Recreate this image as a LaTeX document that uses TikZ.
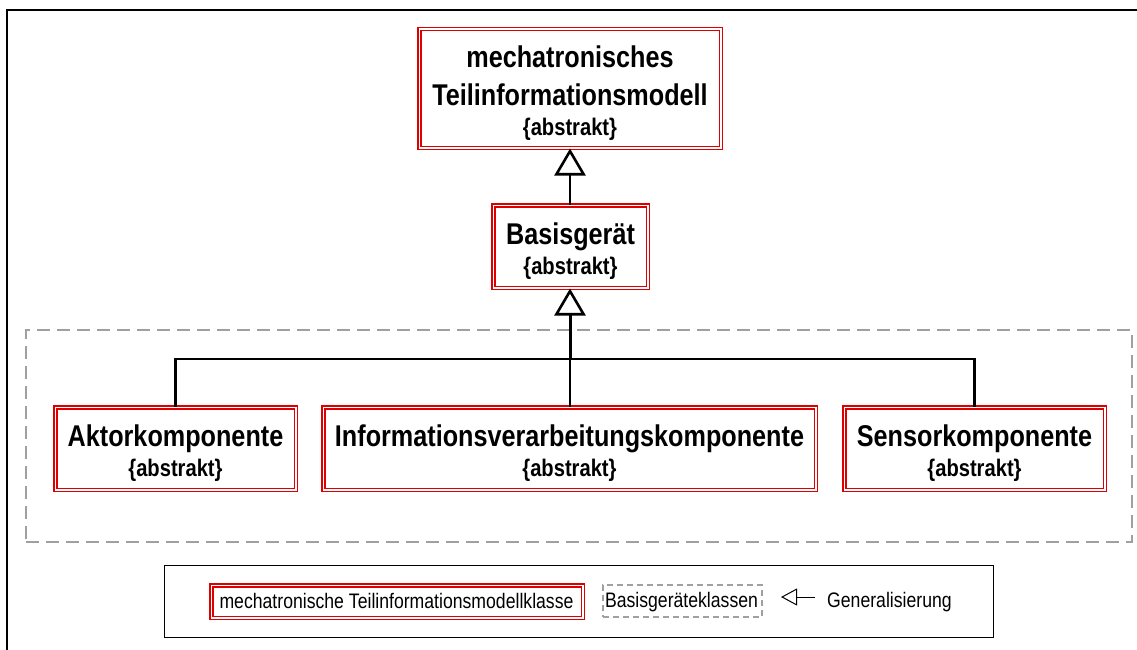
\documentclass[tikz,border=0pt]{standalone}
\usepackage{fontspec}
\setmainfont{Liberation Sans}
\newfontfamily\narrowfont[FakeStretch=0.84]{Liberation Sans}
\usetikzlibrary{arrows.meta}
\definecolor{boxred}{RGB}{220,0,0}
\definecolor{groupgrey}{RGB}{160,160,160}
\newcommand{\abst}[1]{{\fontsize{24}{30}\selectfont #1}}
\newcommand{\tallstrut}{\rule{0pt}{31pt}}
\tikzset{
  classbox/.style={draw=boxred, double=white, double distance=1.5pt,
    line width=1.5pt, rectangle, inner sep=0pt, align=center,
    font=\narrowfont\bfseries\fontsize{30}{30}\selectfont},
  gen/.style={line width=2.2pt,
    -{Triangle[open, length=27pt, width=31pt, line width=2.6pt, fill=white]}},
  conn/.style={line width=2.4pt},
  groupbox/.style={draw=groupgrey, line width=1.6pt,
    dash pattern=on 13pt off 7pt, rectangle, inner sep=0pt},
  legendtext/.style={font=\narrowfont\fontsize{21}{24}\selectfont,
    inner sep=0pt, anchor=base},
}
\begin{document}
\begin{tikzpicture}[x=1pt, y=-1pt]
  \useasboundingbox (0,0) rectangle (1137,650);

  % outer frame (left and top edges only)
  \coordinate (fbl) at (7,651);
  \coordinate (ftl) at (7,10);
  \coordinate (ftr) at (1138,10);
  \draw[line width=2pt] (fbl) -- (ftl) -- (ftr);

  % group of the base device classes
  \node[groupbox, minimum width=1106pt, minimum height=212pt] (grp) at (579,436) {};

  % classes
  \node[classbox, minimum width=301.5pt, minimum height=118.5pt] (top) at (570,88.5)
    {\tallstrut mechatronisches\\[8pt]Teilinformationsmodell\\\abst{\{abstrakt\}}};
  \node[classbox, minimum width=154.5pt, minimum height=82.5pt] (basis) at (570.5,246.5)
    {\tallstrut Basisger\"at\\\abst{\{abstrakt\}}};
  \node[classbox, minimum width=240.5pt, minimum height=82.5pt] (akt) at (175.5,448.5)
    {\tallstrut Aktorkomponente\\\abst{\{abstrakt\}}};
  \node[classbox, minimum width=492.5pt, minimum height=82.5pt] (inf) at (569.5,448.5)
    {\tallstrut Informationsverarbeitungskomponente\\\abst{\{abstrakt\}}};
  \node[classbox, minimum width=260.5pt, minimum height=82.5pt] (sen) at (974.5,448.5)
    {\tallstrut Sensorkomponente\\\abst{\{abstrakt\}}};

  % generalisations
  \coordinate (bar) at (570,359);
  \draw[gen] (basis.north -| top.south) -- (top.south);
  \draw[conn] (akt.north) |- (bar) -| (sen.north);
  \draw[conn] (inf.north -| bar) -- (bar);
  \draw[gen, line width=3pt] (bar) -- (bar |- basis.south);

  % legend
  \node[draw=black, line width=1pt, minimum width=829pt, minimum height=72pt,
        inner sep=0pt] (legend) at (578.5,601) {};
  \node[classbox, minimum width=371.5pt, minimum height=32.5pt] (lred) at (397,601.5) {};
  \node[legendtext] (lredt) at (396.5,608) {mechatronische Teilinformationsmodellklasse};
  \node[draw=groupgrey, line width=1.3pt, dash pattern=on 6pt off 4pt,
        minimum width=159pt, minimum height=32pt, inner sep=0pt] (ldash) at (682.5,601) {};
  \node[legendtext] (ldasht) at (681.5,607) {Basisger\"ateklassen};
  \coordinate (lgenA) at (815,597);
  \coordinate (lgenB) at (781,597);
  \draw[line width=1pt, -{Triangle[open, length=16pt, width=17pt, fill=white]}] (lgenA) -- (lgenB);
  \node[legendtext, anchor=base west] (lgent) at (827,607) {Generalisierung};
\end{tikzpicture}
\end{document}
